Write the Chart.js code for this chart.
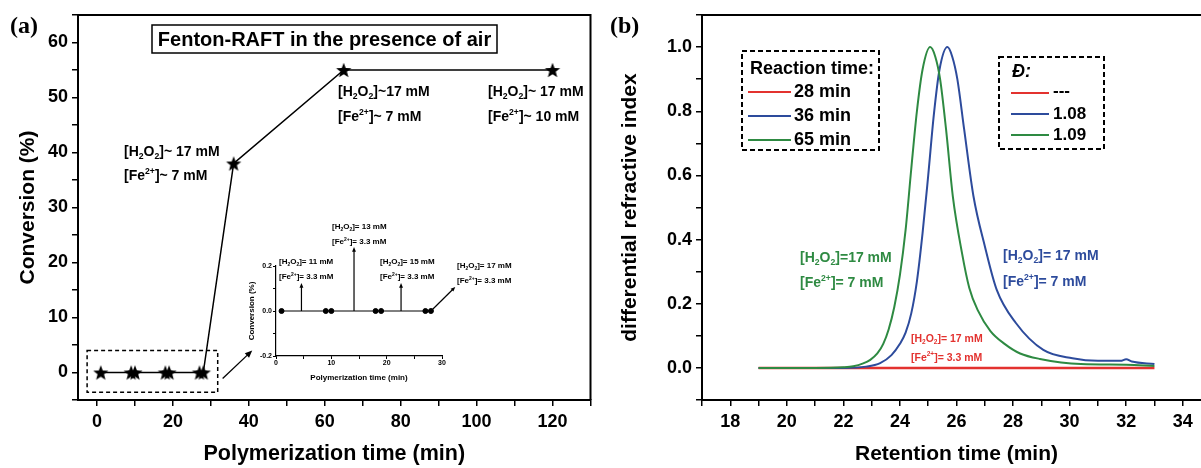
<!DOCTYPE html>
<html>
<head>
<meta charset="utf-8">
<script src="https://cdn.jsdelivr.net/npm/chart.js@4"></script>
<style>
  html, body { margin: 0; padding: 0; overflow: hidden; background: #fff; width: 1201px; height: 468px; }
  canvas { position: absolute; }
</style>
</head>
<body>
<canvas id="chartA" width="600" height="468" style="left:0;top:0"></canvas>
<canvas id="chartB" width="620" height="468" style="left:600px;top:0"></canvas>
<canvas id="inset" width="280" height="175" style="left:235px;top:215px"></canvas>
<script>
// (a) conversion vs polymerization time
let timeA = [1, 9, 10, 18, 19, 27, 28, 36, 65, 120];
let conversionA = [0, 0, 0, 0, 0, 0, 0, 38, 55, 55];

// inset: first 28 min
let timeInset = [1, 9, 10, 18, 19, 27, 28];
let conversionInset = [0, 0, 0, 0, 0, 0, 0];

// (b) GPC traces, retention time (min) / dRI
let rt28 = [19, 33];
let dri28 = [0, 0];
let rt36 = [19, 22, 22.8, 23.3, 23.7, 24.0, 24.2, 24.4, 24.6, 24.8, 25.0, 25.2, 25.4, 25.68,
            25.85, 26.03, 26.27, 26.6, 27.0, 27.42, 28.1, 29.07, 30.1, 31.0, 31.8, 32.0, 32.2, 33.0];
let dri36 = [0, 0, 0.004, 0.015, 0.04, 0.075, 0.11, 0.17, 0.27, 0.42, 0.6, 0.79, 0.93, 1.0,
             0.97, 0.9, 0.744, 0.535, 0.38, 0.244, 0.14, 0.056, 0.03, 0.022, 0.022, 0.027, 0.02, 0.012];
let rt65 = [19, 21, 22, 22.35, 22.7, 22.95, 23.2, 23.41, 23.6, 23.8, 24.0, 24.2, 24.4, 24.6, 24.8, 25.07,
            25.25, 25.42, 25.63, 25.87, 26.19, 26.45, 26.75, 27.2, 27.7, 28.25, 28.95, 30.4, 32, 33];
let dri65 = [0, 0, 0.002, 0.005, 0.014, 0.025, 0.045, 0.075, 0.12, 0.19, 0.29, 0.43, 0.62, 0.8, 0.93, 1.0,
             0.97, 0.9, 0.744, 0.535, 0.36, 0.25, 0.18, 0.115, 0.075, 0.045, 0.028, 0.012, 0.01, 0.006];

let reactionTimes = ['28 min', '36 min', '65 min'];
let dispersity = ['---', '1.08', '1.09'];

const FONT = '"Liberation Sans", Arial, sans-serif';
const RED = '#e3322f', BLUE = '#2d4b9c', GREEN = '#2e8a42';

Chart.defaults.font.family = FONT;
Chart.defaults.color = '#000';

// draw text with _{sub} and ^{sup} parts
function richText(ctx, str, x, y, size, color) {
  let parts = [], re = /([_^])\{([^}]*)\}|([^_^]+)/g, m;
  while ((m = re.exec(str))) parts.push(m[1] ? {t: m[2], k: m[1]} : {t: m[3], k: ''});
  ctx.save();
  ctx.fillStyle = color || '#000';
  ctx.textBaseline = 'middle';
  ctx.textAlign = 'left';
  let cx = x;
  for (let p of parts) {
    let s = p.k ? size * 0.62 : size;
    ctx.font = 'bold ' + s + 'px ' + FONT;
    let dy = p.k === '_' ? size * 0.3 : (p.k === '^' ? -size * 0.32 : 0);
    ctx.fillText(p.t, cx, y + dy);
    cx += ctx.measureText(p.t).width;
  }
  ctx.restore();
}

function arrow(ctx, x1, y1, x2, y2, head, w) {
  let a = Math.atan2(y2 - y1, x2 - x1);
  ctx.lineWidth = w;
  ctx.beginPath();
  ctx.moveTo(x1, y1);
  ctx.lineTo(x2 - head * 0.8 * Math.cos(a), y2 - head * 0.8 * Math.sin(a));
  ctx.stroke();
  ctx.beginPath();
  ctx.moveTo(x2, y2);
  ctx.lineTo(x2 - head * Math.cos(a - 0.4), y2 - head * Math.sin(a - 0.4));
  ctx.lineTo(x2 - head * Math.cos(a + 0.4), y2 - head * Math.sin(a + 0.4));
  ctx.closePath();
  ctx.fill();
}

function makeStar(r) {
  let c = document.createElement('canvas');
  c.width = c.height = Math.ceil(2 * r + 2);
  let g = c.getContext('2d');
  g.translate(c.width / 2, c.height / 2 + r * 0.1);
  g.beginPath();
  for (let i = 0; i < 10; i++) {
    let rad = i % 2 ? r * 0.42 : r;
    let a = -Math.PI / 2 + i * Math.PI / 5;
    g.lineTo(rad * Math.cos(a), rad * Math.sin(a));
  }
  g.closePath();
  g.fillStyle = '#000';
  g.fill();
  return c;
}

function toXY(xs, ys) {
  return xs.map((v, i) => ({x: v, y: ys[i]}));
}

// every step from min to max, so the tick next to the axis end is kept
function fixedTicks(min, max, step) {
  return s => {
    let t = [];
    for (let v = min; v <= max + 1e-9; v += step) t.push({ value: Math.round(v * 1000) / 1000 });
    s.ticks = t;
  };
}

const tickGrid = { display: true, drawOnChartArea: false, drawTicks: true, tickLength: 6, color: '#000', lineWidth: 1.5 };
const axisBorder = { display: true, color: '#000', width: 2 };

// ---------- panel (a) ----------
const panelA = {
  id: 'panelA',
  afterDraw(chart) {
    const {ctx, chartArea: ca, scales: {x, y}} = chart;
    ctx.save();
    ctx.strokeStyle = '#000';
    ctx.fillStyle = '#000';
    ctx.lineWidth = 2;
    ctx.beginPath();
    ctx.moveTo(ca.left, ca.top);
    ctx.lineTo(ca.right, ca.top);
    ctx.lineTo(ca.right, ca.bottom);
    ctx.stroke();

    ctx.font = 'bold 24px "Liberation Serif", serif';
    ctx.textBaseline = 'middle';
    ctx.fillText('(a)', 10, 27);

    // title box
    ctx.lineWidth = 1.5;
    ctx.strokeRect(152, 25, 345, 28);
    ctx.font = 'bold 20px ' + FONT;
    ctx.textAlign = 'center';
    ctx.fillText('Fenton-RAFT in the presence of air', 324.5, 40);
    ctx.textAlign = 'left';

    // dashed box round the first 28 min, arrow to the inset
    ctx.setLineDash([4, 3]);
    ctx.lineWidth = 1.5;
    let bx1 = x.getPixelForValue(-2.6), bx2 = x.getPixelForValue(31.8);
    let by1 = y.getPixelForValue(4), by2 = y.getPixelForValue(-3.6);
    ctx.strokeRect(bx1, by1, bx2 - bx1, by2 - by1);
    ctx.setLineDash([]);
    arrow(ctx, x.getPixelForValue(33.1), y.getPixelForValue(-1.1), x.getPixelForValue(40.9), y.getPixelForValue(4.0), 8, 1.3);
    ctx.restore();

    richText(ctx, '[H_{2}O_{2}]~ 17 mM', 124, 152, 14);
    richText(ctx, '[Fe^{2+}]~ 7 mM', 124, 176, 14);
    richText(ctx, '[H_{2}O_{2}]~17 mM', 338, 92, 14);
    richText(ctx, '[Fe^{2+}]~ 7 mM', 338, 117, 14);
    richText(ctx, '[H_{2}O_{2}]~ 17 mM', 488, 92, 14);
    richText(ctx, '[Fe^{2+}]~ 10 mM', 488, 117, 14);
  }
};

new Chart(document.getElementById('chartA'), {
  type: 'scatter',
  data: {
    datasets: [{
      data: toXY(timeA, conversionA),
      showLine: true,
      borderColor: '#000',
      borderWidth: 1.5,
      pointStyle: makeStar(8),
      pointRadius: 8
    }]
  },
  options: {
    responsive: false,
    animation: false,
    layout: { padding: { left: 0, right: 7, top: 15, bottom: 0 } },
    plugins: { legend: { display: false }, tooltip: { enabled: false } },
    scales: {
      x: {
        type: 'linear', min: -5, max: 130,
        afterFit: s => { s.height = 68; },
        afterBuildTicks: fixedTicks(0, 130, 10),
        grid: tickGrid, border: axisBorder,
        ticks: { autoSkip: false, maxRotation: 0, padding: 5,
                 font: { size: 18, weight: 'bold' },
                 callback: v => v % 20 === 0 ? String(v) : '' },
        title: { display: true, text: 'Polymerization time (min)', font: { size: 21.5, weight: 'bold' },
                 padding: { top: 0, bottom: 1 } }
      },
      y: {
        min: -5, max: 65,
        afterFit: s => { s.width = 78; },
        afterBuildTicks: fixedTicks(-5, 65, 5),
        grid: tickGrid, border: axisBorder,
        ticks: { autoSkip: false, padding: 4,
                 font: { size: 18, weight: 'bold' },
                 callback: v => v % 10 === 0 ? String(v) : '' },
        title: { display: true, text: 'Conversion (%)', font: { size: 21, weight: 'bold' },
                 padding: { top: 16, bottom: 0 } }
      }
    }
  },
  plugins: [panelA]
});

// ---------- inset ----------
const insetNotes = {
  id: 'insetNotes',
  afterDraw(chart) {
    const {ctx, scales: {x, y}} = chart;
    ctx.save();
    ctx.strokeStyle = '#000';
    ctx.fillStyle = '#000';
    [[4.6, 0.124], [14.1, 0.284], [22.6, 0.124]].forEach(([t, top]) => {
      arrow(ctx, x.getPixelForValue(t), y.getPixelForValue(0), x.getPixelForValue(t), y.getPixelForValue(top), 5, 1.2);
    });
    arrow(ctx, x.getPixelForValue(28), y.getPixelForValue(0), x.getPixelForValue(32.4), y.getPixelForValue(0.107), 5, 1.2);
    ctx.restore();
    richText(ctx, '[H_{2}O_{2}]= 11 mM', 44, 47, 8);
    richText(ctx, '[Fe^{2+}]= 3.3 mM', 44, 62, 8);
    richText(ctx, '[H_{2}O_{2}]= 13 mM', 97, 12, 8);
    richText(ctx, '[Fe^{2+}]= 3.3 mM', 97, 27, 8);
    richText(ctx, '[H_{2}O_{2}]= 15 mM', 145, 47, 8);
    richText(ctx, '[Fe^{2+}]= 3.3 mM', 145, 62, 8);
    richText(ctx, '[H_{2}O_{2}]= 17 mM', 222, 51, 8);
    richText(ctx, '[Fe^{2+}]= 3.3 mM', 222, 66, 8);
  }
};

const insetGrid = { display: true, drawOnChartArea: false, drawTicks: true, tickLength: 3, color: '#000', lineWidth: 1 };
const insetBorder = { display: true, color: '#000', width: 1.2 };

new Chart(document.getElementById('inset'), {
  type: 'scatter',
  data: {
    datasets: [{
      data: toXY(timeInset, conversionInset),
      showLine: true,
      borderColor: '#000',
      borderWidth: 1,
      pointBackgroundColor: '#000',
      pointBorderColor: '#000',
      pointRadius: 2.5
    }]
  },
  options: {
    responsive: false,
    animation: false,
    layout: { padding: { left: 0, right: 73, top: 51, bottom: 0 } },
    plugins: { legend: { display: false }, tooltip: { enabled: false } },
    scales: {
      x: {
        type: 'linear', min: 0, max: 30,
        afterFit: s => { s.height = 34; },
        afterBuildTicks: fixedTicks(0, 30, 5),
        grid: insetGrid, border: insetBorder,
        ticks: { autoSkip: false, maxRotation: 0, padding: 0,
                 font: { size: 7, weight: 'bold' },
                 callback: v => v % 10 === 0 ? String(v) : '' },
        title: { display: true, text: 'Polymerization time (min)', font: { size: 8, weight: 'bold' },
                 padding: { top: 0, bottom: 7 } }
      },
      y: {
        min: -0.2, max: 0.2,
        afterFit: s => { s.width = 41; },
        afterBuildTicks: fixedTicks(-0.2, 0.2, 0.1),
        grid: insetGrid, border: insetBorder,
        ticks: { autoSkip: false, padding: 1,
                 font: { size: 7, weight: 'bold' },
                 callback: v => Math.round(v * 10) % 2 === 0 ? v.toFixed(1) : '' },
        title: { display: true, text: 'Conversion (%)', font: { size: 8, weight: 'bold' },
                 padding: { top: 12, bottom: 0 } }
      }
    }
  },
  plugins: [insetNotes]
});

// ---------- panel (b) ----------
const panelB = {
  id: 'panelB',
  afterDraw(chart) {
    const {ctx, chartArea: ca} = chart;
    const colors = [RED, BLUE, GREEN];
    ctx.save();
    ctx.strokeStyle = '#000';
    ctx.fillStyle = '#000';
    ctx.lineWidth = 2;
    ctx.beginPath();
    ctx.moveTo(ca.left, ca.top);
    ctx.lineTo(chart.width, ca.top);
    ctx.stroke();

    ctx.font = 'bold 24px "Liberation Serif", serif';
    ctx.textBaseline = 'middle';
    ctx.fillText('(b)', 10, 27);

    // legend boxes
    ctx.lineWidth = 2;
    ctx.setLineDash([5, 3]);
    ctx.strokeRect(142, 51, 137, 99);
    ctx.strokeRect(399, 57, 105, 92);
    ctx.setLineDash([]);

    ctx.font = 'bold 18px ' + FONT;
    ctx.fillText('Reaction time:', 150, 69);
    reactionTimes.forEach((t, i) => {
      let yy = 92 + i * 24;
      ctx.strokeStyle = colors[i];
      ctx.lineWidth = 2;
      ctx.beginPath(); ctx.moveTo(148, yy); ctx.lineTo(191, yy); ctx.stroke();
      ctx.fillText(t, 194, yy);
    });

    ctx.font = 'italic bold 18px ' + FONT;
    ctx.fillText('\u0110:', 412, 72);
    ctx.font = 'bold 17px ' + FONT;
    dispersity.forEach((d, i) => {
      let yy = 93 + i * 21;
      ctx.strokeStyle = colors[i];
      ctx.lineWidth = 2;
      ctx.beginPath(); ctx.moveTo(411, yy); ctx.lineTo(449, yy); ctx.stroke();
      ctx.fillText(d, 453, yy + (i === 0 ? -2 : 0));
    });
    ctx.restore();

    richText(ctx, '[H_{2}O_{2}]=17 mM', 200, 258, 14, GREEN);
    richText(ctx, '[Fe^{2+}]= 7 mM', 200, 283, 14, GREEN);
    richText(ctx, '[H_{2}O_{2}]= 17 mM', 403, 256, 14, BLUE);
    richText(ctx, '[Fe^{2+}]= 7 mM', 403, 282, 14, BLUE);
    richText(ctx, '[H_{2}O_{2}]= 17 mM', 311, 339, 10.5, RED);
    richText(ctx, '[Fe^{2+}]= 3.3 mM', 311, 358, 10.5, RED);
  }
};

new Chart(document.getElementById('chartB'), {
  type: 'scatter',
  data: {
    datasets: [
      { label: reactionTimes[0], data: toXY(rt28, dri28), borderColor: RED, borderWidth: 2.5, order: 3 },
      { label: reactionTimes[1], data: toXY(rt36, dri36), borderColor: BLUE, borderWidth: 2, order: 2 },
      { label: reactionTimes[2], data: toXY(rt65, dri65), borderColor: GREEN, borderWidth: 2, order: 1 }
    ].map(d => Object.assign(d, { showLine: true, pointRadius: 0, cubicInterpolationMode: 'monotone' }))
  },
  options: {
    responsive: false,
    animation: false,
    layout: { padding: { left: 0, right: 9, top: 15, bottom: 0 } },
    plugins: { legend: { display: false }, tooltip: { enabled: false } },
    scales: {
      x: {
        type: 'linear', min: 17, max: 35,
        afterFit: s => { s.height = 68; },
        afterBuildTicks: fixedTicks(17, 35, 1),
        grid: tickGrid, border: axisBorder,
        ticks: { autoSkip: false, maxRotation: 0, padding: 5,
                 font: { size: 18, weight: 'bold' },
                 callback: v => v % 2 === 0 ? String(v) : '' },
        title: { display: true, text: 'Retention time (min)', font: { size: 21, weight: 'bold' },
                 padding: { top: 0, bottom: 1 } }
      },
      y: {
        min: -0.1, max: 1.1,
        afterFit: s => { s.width = 102; },
        afterBuildTicks: fixedTicks(-0.1, 1.1, 0.1),
        grid: tickGrid, border: axisBorder,
        ticks: { autoSkip: false, padding: 4,
                 font: { size: 18, weight: 'bold' },
                 callback: v => Math.round(v * 10) % 2 === 0 ? v.toFixed(1) : '' },
        title: { display: true, text: 'differential refractive index', font: { size: 21, weight: 'bold' },
                 padding: { top: 18, bottom: 0 } }
      }
    }
  },
  plugins: [panelB]
});
</script>
</body>
</html>
